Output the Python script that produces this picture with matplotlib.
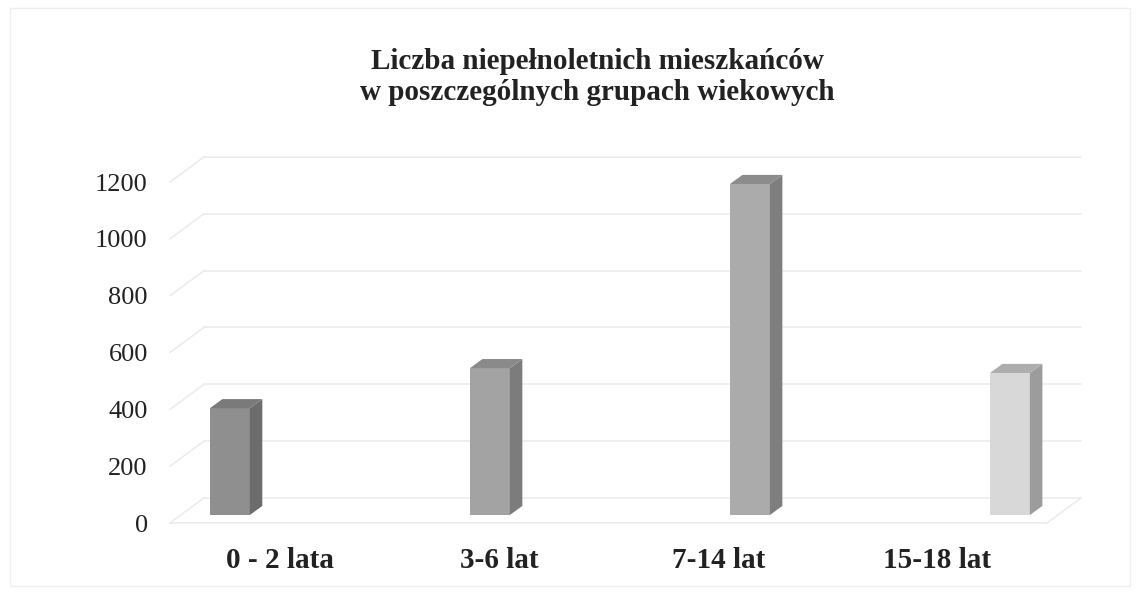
import matplotlib
matplotlib.use("Agg")
import matplotlib.pyplot as plt
from matplotlib.patches import Polygon, Rectangle

# ---- data ----
categories = ["0 - 2 lata", "3-6 lat", "7-14 lat", "15-18 lat"]
values = [376, 517, 1165, 500]
yticks = [0, 200, 400, 600, 800, 1000, 1200]
title = "Liczba niepełnoletnich mieszkańców\nw poszczególnych grupach wiekowych"

# ---- style / layout constants ----
W, H, DPI = 1139, 594, 100
front_colors = ["#8f8f8f", "#a3a3a3", "#ababab", "#d8d8d8"]
side_colors = ["#6c6c6c", "#7c7c7c", "#7e7e7e", "#9c9c9c"]
top_colors = ["#7a7a7a", "#8a8a8a", "#8c8c8c", "#adadad"]
grid_color = "#ebebeb"

XL, XR = -0.5, 3.5           # category axis limits (front floor)
WALL_DX, WALL_DY = 0.155, 88  # depth of the chart box (data units)
BAR_X0, BAR_STEP, BAR_W = -0.318, 1.186, 0.182
BAR_BASE = 28                 # front face of bars is behind the front plane
BAR_DX, BAR_DY = 0.057, 32    # bar depth

fig = plt.figure(figsize=(W / DPI, H / DPI), dpi=DPI)
fig.patch.set_facecolor("white")

# faint outer frame of the scanned chart area
fig.patches.append(Rectangle((10 / W, 8 / H), 1120 / W, 578 / H, transform=fig.transFigure,
                             fill=False, edgecolor="#efefef", lw=1.0))

ax = fig.add_axes([170 / W, (H - 523) / H, 877 / W, 341 / H])
ax.set_xlim(XL, XR)
ax.set_ylim(0, 1200)
for s in ax.spines.values():
    s.set_visible(False)

# back wall gridlines + side wall diagonals
for v in yticks:
    ax.plot([XL + WALL_DX, XR + WALL_DX], [v + WALL_DY, v + WALL_DY], color=grid_color,
            lw=1.1, clip_on=False, zorder=1)
    ax.plot([XL, XL + WALL_DX], [v, v + WALL_DY], color=grid_color, lw=1.1, clip_on=False, zorder=1)
# floor front edge and right edge
ax.plot([XL, XR], [0, 0], color=grid_color, lw=1.1, clip_on=False, zorder=1)
ax.plot([XR, XR + WALL_DX], [0, WALL_DY], color=grid_color, lw=1.1, clip_on=False, zorder=1)

# bars (front faces via ax.bar, side/top faces as polygons in data coords)
xs = [BAR_X0 + BAR_STEP * i for i in range(len(values))]
ax.bar(xs, values, width=BAR_W, bottom=BAR_BASE, align="edge", color=front_colors,
       edgecolor="none", zorder=3, clip_on=False)
for x, v, sc, tc in zip(xs, values, side_colors, top_colors):
    xr = x + BAR_W
    top = BAR_BASE + v
    side = Polygon([(xr, BAR_BASE), (xr + BAR_DX, BAR_BASE + BAR_DY),
                    (xr + BAR_DX, top + BAR_DY), (xr, top)],
                   closed=True, facecolor=sc, edgecolor="none", zorder=3, clip_on=False)
    topf = Polygon([(x, top), (x + BAR_DX, top + BAR_DY), (xr + BAR_DX, top + BAR_DY), (xr, top)],
                   closed=True, facecolor=tc, edgecolor="none", zorder=3, clip_on=False)
    ax.add_patch(side)
    ax.add_patch(topf)

ax.set_yticks(yticks)
ax.set_yticklabels([str(t) for t in yticks], fontfamily="Liberation Serif", fontsize=19,
                   color="#222222")
ax.set_xticks(range(len(categories)))
ax.set_xticklabels(categories, fontfamily="Liberation Serif", fontsize=21, fontweight="bold",
                   color="#222222")
ax.tick_params(axis="y", length=0, pad=16)
ax.tick_params(axis="x", length=0, pad=17)

fig.text(597 / W, 1 - 77 / H, title, ha="center", va="center", fontfamily="Liberation Serif",
         fontsize=21, fontweight="bold", color="#222222", linespacing=1.15)

fig.savefig("out.png", dpi=DPI, facecolor="white")
